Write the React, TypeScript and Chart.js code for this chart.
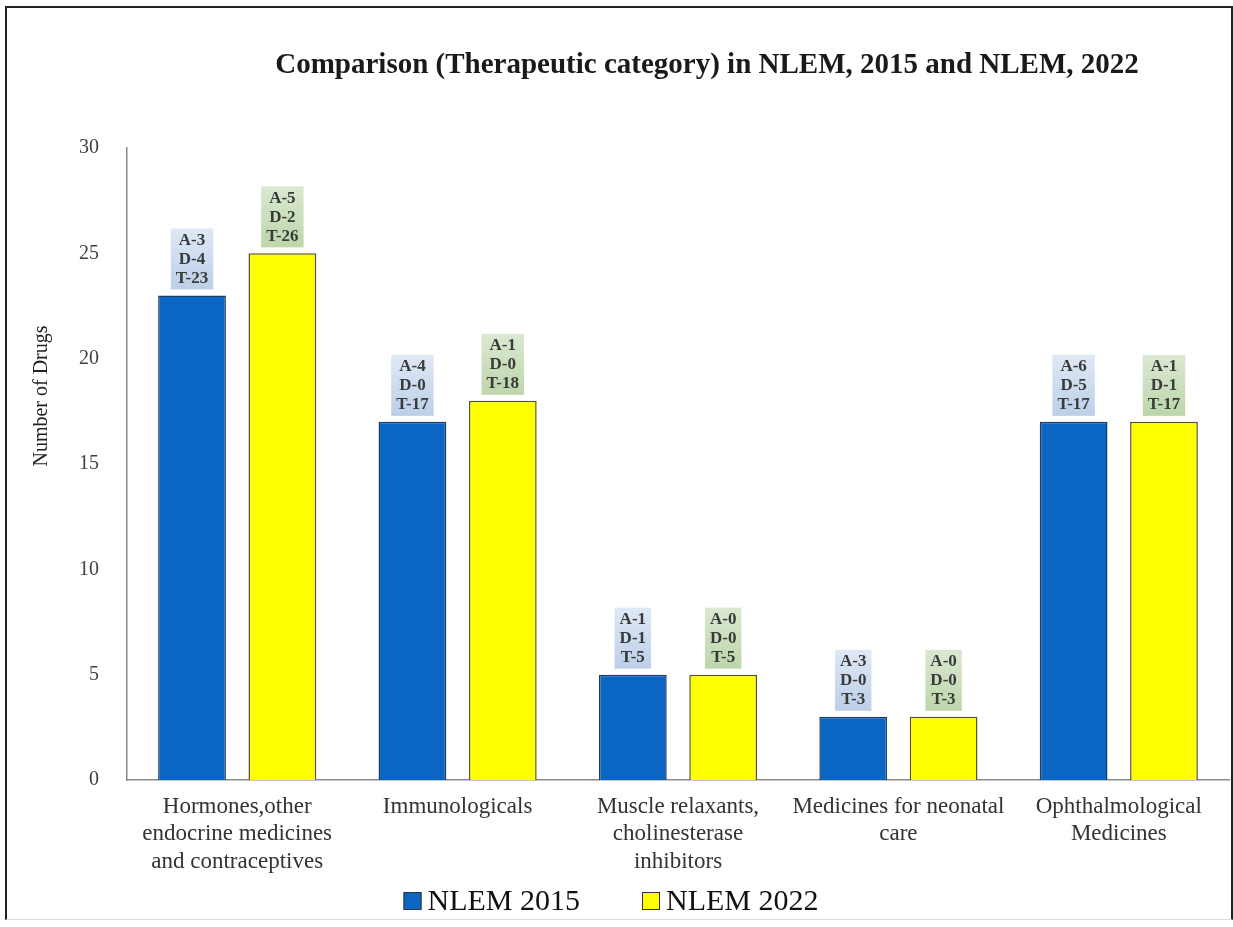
import React, { useEffect, useRef } from "react";
import { Chart, registerables } from "chart.js";
Chart.register(...registerables);

const categories: string[][] = [
  ["Hormones,other", "endocrine medicines", "and contraceptives"],
  ["Immunologicals"],
  ["Muscle relaxants,", "cholinesterase", "inhibitors"],
  ["Medicines for neonatal", "care"],
  ["Ophthalmological", "Medicines"],
];
const seriesNames = ["NLEM 2015", "NLEM 2022"];
const nlem2015 = [23, 17, 5, 3, 17];
const nlem2022 = [25, 18, 5, 3, 17];
const added2015 = [3, 4, 1, 3, 6];
const deleted2015 = [4, 0, 1, 0, 5];
const total2015 = [23, 17, 5, 3, 17];
const added2022 = [5, 1, 0, 0, 1];
const deleted2022 = [2, 0, 0, 0, 1];
const total2022 = [26, 18, 5, 3, 17];
const yMin = 0;
const yMax = 30;
const yStep = 5;
const chartTitle = "Comparison (Therapeutic category) in NLEM, 2015 and NLEM, 2022";
const yAxisTitle = "Number of Drugs";

const SERIF = "'Liberation Serif', 'Times New Roman', serif";
const BLUE = "#0a66c2";
const YELLOW = "#ffff00";

const annotations = [
  { added: added2015, deleted: deleted2015, total: total2015, top: "#dfe9f6", bottom: "#bccfe8" },
  { added: added2022, deleted: deleted2022, total: total2022, top: "#dbe8d2", bottom: "#bcd6aa" },
];

const decorPlugin = {
  id: "decor",
  afterDatasetsDraw(chart: any) {
    const ctx = chart.ctx;
    ctx.save();
    ctx.font = `bold 17px ${SERIF}`;
    ctx.textAlign = "center";
    ctx.textBaseline = "middle";
    chart.data.datasets.forEach((_: any, di: number) => {
      const meta = chart.getDatasetMeta(di);
      const ann = annotations[di];
      meta.data.forEach((bar: any, i: number) => {
        const lines = [`A-${ann.added[i]}`, `D-${ann.deleted[i]}`, `T-${ann.total[i]}`];
        const w = Math.max(...lines.map((l) => ctx.measureText(l).width)) + 10;
        const bottom = bar.y - 6;
        const top = bar.y - 67;
        const g = ctx.createLinearGradient(0, top, 0, bottom);
        g.addColorStop(0, ann.top);
        g.addColorStop(1, ann.bottom);
        ctx.fillStyle = g;
        ctx.fillRect(bar.x - w / 2, top, w, bottom - top);
        ctx.fillStyle = "#3a3a3a";
        lines.forEach((l, k) => {
          ctx.fillText(l, bar.x, bar.y - 55 + k * 19);
        });
      });
    });
    ctx.restore();
  },
  afterDraw(chart: any) {
    const ctx = chart.ctx;
    ctx.save();
    // Title
    ctx.font = `bold 29px ${SERIF}`;
    ctx.fillStyle = "#1a1a1a";
    ctx.textAlign = "center";
    ctx.textBaseline = "middle";
    ctx.fillText(chartTitle, 707, 66);
    // Y axis title
    ctx.save();
    ctx.translate(42, 396);
    ctx.rotate(-Math.PI / 2);
    ctx.font = `20px ${SERIF}`;
    ctx.fillStyle = "#222";
    ctx.fillText(yAxisTitle, 0, 0);
    ctx.restore();
    // Legend
    ctx.font = `30px ${SERIF}`;
    ctx.textAlign = "left";
    const box = 18;
    const gap = 6;
    const spacing = 62;
    const widths = chart.data.datasets.map((d: any) => ctx.measureText(d.label).width);
    const total = widths.reduce((a: number, b: number) => a + b, 0) + 2 * (box + gap) + spacing;
    let x = 611 - total / 2;
    const cy = 901;
    chart.data.datasets.forEach((d: any, i: number) => {
      ctx.fillStyle = d.backgroundColor;
      ctx.fillRect(x, cy - box / 2, box, box);
      ctx.strokeStyle = "#333";
      ctx.lineWidth = 1;
      ctx.strokeRect(x + 0.5, cy - box / 2 + 0.5, box - 1, box - 1);
      ctx.fillStyle = "#111";
      ctx.fillText(d.label, x + box + gap, cy + 1);
      x += box + gap + widths[i] + spacing;
    });
    ctx.restore();
  },
};

export default function App() {
  const ref = useRef<HTMLCanvasElement>(null);
  useEffect(() => {
    if (!ref.current) return;
    const chart = new Chart(ref.current, {
      type: "bar",
      data: {
        labels: categories,
        datasets: [
          {
            label: seriesNames[0],
            data: nlem2015,
            backgroundColor: BLUE,
            borderColor: "#1c3c66",
            borderWidth: 1.5,
            categoryPercentage: 0.82,
            barPercentage: 0.75,
          },
          {
            label: seriesNames[1],
            data: nlem2022,
            backgroundColor: YELLOW,
            borderColor: "#55552a",
            borderWidth: 1.5,
            categoryPercentage: 0.82,
            barPercentage: 0.75,
          },
        ],
      },
      options: {
        animation: false,
        responsive: false,
        maintainAspectRatio: false,
        layout: { padding: { top: 148, right: 4, left: 0, bottom: 0 } },
        plugins: {
          legend: { display: false },
          title: { display: false },
          tooltip: { enabled: false },
        },
        scales: {
          x: {
            grid: { display: false },
            border: { display: true, color: "#8a8a8a", width: 1.5 },
            ticks: {
              autoSkip: false,
              maxRotation: 0,
              minRotation: 0,
              padding: 5,
              color: "#333",
              font: { family: SERIF, size: 23, lineHeight: 1.2 },
            },
            afterFit(scale: any) {
              scale.height = 147;
            },
          },
          y: {
            min: yMin,
            max: yMax,
            grid: { display: false },
            border: { display: true, color: "#8a8a8a", width: 1.5 },
            ticks: {
              stepSize: yStep,
              padding: 20,
              color: "#404040",
              font: { family: SERIF, size: 20 },
            },
            afterFit(scale: any) {
              scale.width = 127;
            },
          },
        },
      },
      plugins: [decorPlugin],
    });
    return () => chart.destroy();
  }, []);
  return (
    <div style={{ position: "absolute", left: 0, top: 0, width: 1233, height: 927, background: "#fff", overflow: "hidden" }}>
      <canvas ref={ref} width={1233} height={927} style={{ position: "absolute", left: 0, top: 0, width: 1233, height: 927 }} />
      <div
        style={{
          position: "absolute",
          left: 5,
          top: 6,
          width: 1224,
          height: 911,
          borderLeft: "2px solid #222",
          borderTop: "2px solid #222",
          borderRight: "2px solid #222",
          borderBottom: "1px solid #ddd",
          pointerEvents: "none",
        }}
      />
    </div>
  );
}
